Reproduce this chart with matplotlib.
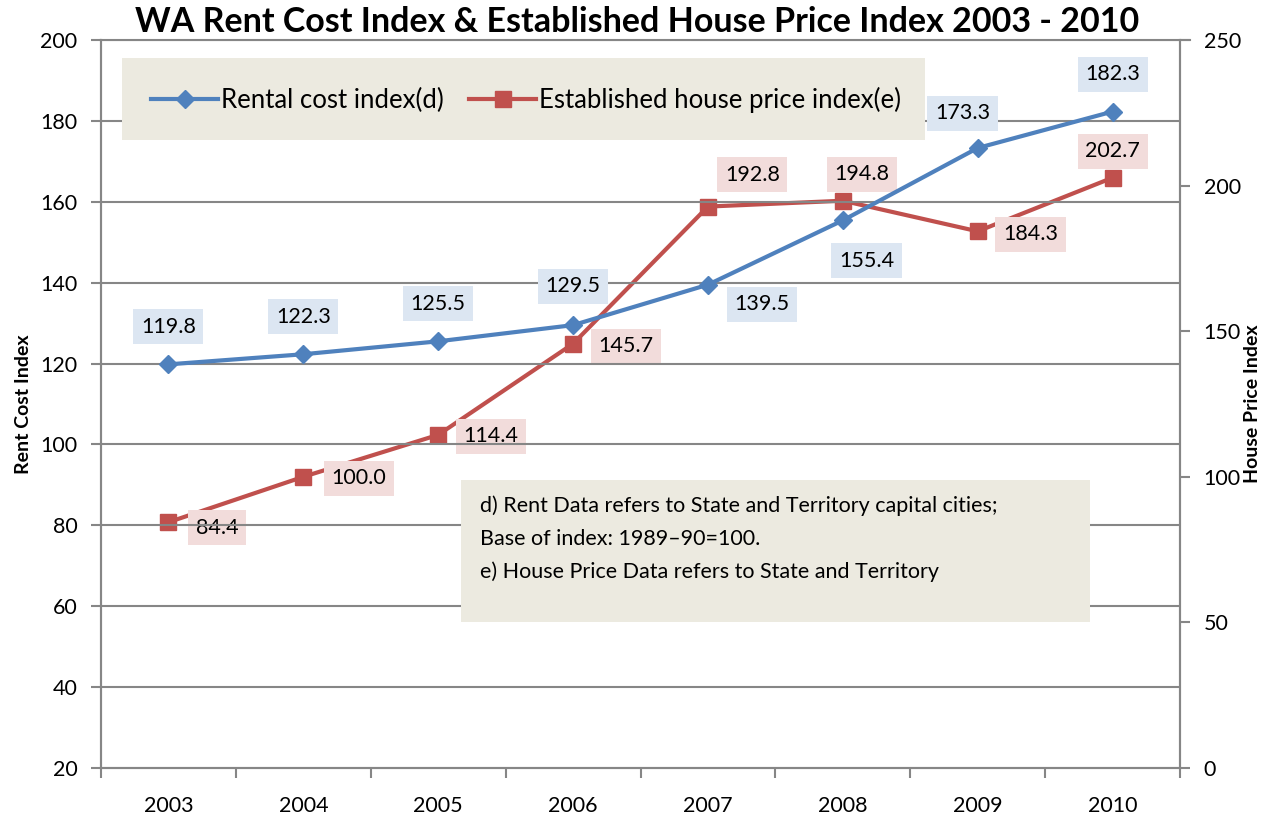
import matplotlib.pyplot as plt
from matplotlib.patches import Rectangle
from matplotlib.lines import Line2D

plt.rcParams['font.family'] = ['Lato', 'DejaVu Sans']

years = ['2003', '2004', '2005', '2006', '2007', '2008', '2009', '2010']
rent = [119.8, 122.3, 125.5, 129.5, 139.5, 155.4, 173.3, 182.3]
house = [84.4, 100.0, 114.4, 145.7, 192.8, 194.8, 184.3, 202.7]

# label offsets in points (x, y)
rentOffsets = [(0, 27), (0, 27), (0, 27), (0, 28), (39, -14), (17, -29), (-11, 25), (0, 27)]
houseOffsets = [(35, -4), (40, -1), (38, -1), (38, -2), (32, 23), (14, 19), (38, -2), (0, 19)]

blue = '#4F81BD'
red = '#C0504D'
grey = '#868686'

fig = plt.figure(figsize=(12.75, 8.21), dpi=100)
ax = fig.add_axes([101 / 1275, 1 - 768 / 821, 1079 / 1275, 728 / 821])
ax2 = ax.twinx()

xs = list(range(len(years)))

ax.set_xlim(-0.5, len(years) - 0.5)
ax.set_ylim(20, 200)
ax.set_yticks(range(20, 201, 20))
ax2.set_ylim(0, 250)
ax2.set_yticks(range(0, 251, 50))

for y in range(40, 201, 20):
    ax.axhline(y, color=grey, lw=1.5, zorder=0)

ax.set_xticks(xs)
ax.set_xticklabels(years, fontsize=15.5)
ax.set_xticks([x - 0.5 for x in range(len(years) + 1)], minor=True)
ax.tick_params(axis='x', which='major', length=0, pad=20)
ax.tick_params(axis='x', which='minor', length=7, color=grey, width=1.5)
ax.tick_params(axis='y', labelsize=15.5, length=7, color=grey, width=1.5, pad=10)
ax2.tick_params(axis='y', labelsize=15.5, length=7, color=grey, width=1.5, pad=10)

for a in (ax, ax2):
    for s in a.spines.values():
        s.set_color(grey)
        s.set_linewidth(1.5)
    a.spines['top'].set_visible(False)

ax2.plot(xs, house, color=red, lw=3, marker='s', markersize=11, zorder=3)
ax.set_zorder(ax2.get_zorder() + 1)
ax.patch.set_visible(False)
ax.plot(xs, rent, color=blue, lw=3, marker='D', markersize=9, zorder=3)

for x, v, off in zip(xs, rent, rentOffsets):
    ax.annotate(f'{v:.1f}', (x, v), xytext=off, textcoords='offset points',
                ha='center', va='center', fontsize=15.5,
                bbox=dict(boxstyle='square,pad=0.35', fc='#DCE6F2', ec='none'))
for x, v, off in zip(xs, house, houseOffsets):
    ax2.annotate(f'{v:.1f}', (x, v), xytext=off, textcoords='offset points',
                 ha='center', va='center', fontsize=15.5,
                 bbox=dict(boxstyle='square,pad=0.35', fc='#F2DCDB', ec='none'), zorder=5)

ax.set_ylabel('Rent Cost Index', fontsize=14, fontweight='bold', labelpad=6)
ax2.set_ylabel('House Price Index', fontsize=14, fontweight='bold', labelpad=2)

fig.text(637 / 1275, 1 - 22 / 821, 'WA Rent Cost Index & Established House Price Index 2003 - 2010',
         ha='center', va='center', fontsize=24.5, fontweight='bold')

# top border line across plot
fig.add_artist(Line2D([101 / 1275, 1190 / 1275], [1 - 40 / 821] * 2, color=grey, lw=1.5))

# legend box
fig.add_artist(Rectangle((122 / 1275, 1 - 140 / 821), 803 / 1275, 82 / 821,
                         transform=fig.transFigure, fc='#ECEAE0', ec='none', zorder=10))
handles = [Line2D([], [], color=blue, lw=3, marker='D', markersize=9),
           Line2D([], [], color=red, lw=3, marker='s', markersize=11)]
leg = fig.legend(handles, ['Rental cost index(d)', 'Established house price index(e)'],
                 loc='center', bbox_to_anchor=(526 / 1275, 1 - 100 / 821), ncol=2,
                 frameon=False, fontsize=18.5, handlelength=2.6, handletextpad=0.1,
                 columnspacing=1.0)
leg.set_zorder(11)

# note box
fig.add_artist(Rectangle((461 / 1275, 1 - 622 / 821), 629 / 1275, 142 / 821,
                         transform=fig.transFigure, fc='#ECEAE0', ec='none', zorder=10))
notes = ['d) Rent Data refers to State and Territory capital cities;',
         'Base of index: 1989\u201390=100.',
         'e) House Price Data refers to State and Territory']
for i, line in enumerate(notes):
    fig.text(480 / 1275, 1 - (506 + 33 * i) / 821, line, ha='left', va='center',
             fontsize=15.5, zorder=11)

plt.savefig('out.png', dpi=100)
